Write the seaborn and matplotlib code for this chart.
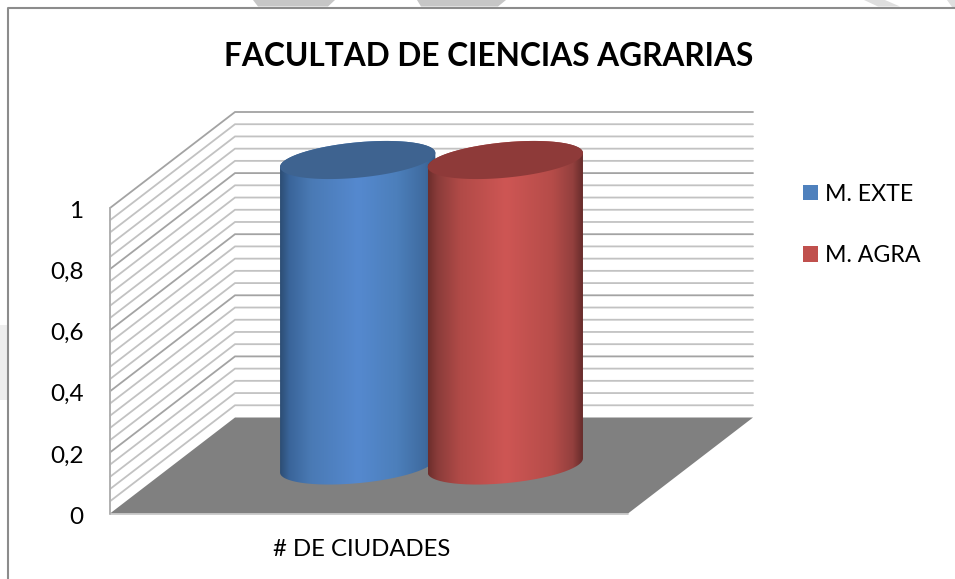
#!/usr/bin/env python3

import numpy as np
import pandas as pd
import matplotlib
matplotlib.use("Agg")
import matplotlib.pyplot as plt
from matplotlib.colors import LinearSegmentedColormap
from matplotlib.patches import Patch, PathPatch, Polygon, Rectangle
from matplotlib.path import Path
from matplotlib.transforms import ScaledTranslation
import seaborn as sns

categories = ["# DE CIUDADES"]
series = ["M. EXTE", "M. AGRA"]
m_exte = [1]
m_agra = [1]
y_ticks = [0, 0.2, 0.4, 0.6, 0.8, 1]
y_labels = ["0", "0,2", "0,4", "0,6", "0,8", "1"]
title = "FACULTAD DE CIENCIAS AGRARIAS"

sns.set_theme(style="white")
plt.rcParams["font.family"] = ["Lato", "DejaVu Sans"]

W, H = 955, 579
fig = plt.figure(figsize=(W / 100, H / 100), dpi=100, facecolor="white")
ax = fig.add_axes([110 / W, (H - 513.5) / H, 518 / W, 305.5 / H])

df = pd.DataFrame({
    "cat": categories * 2,
    "serie": series,
    "valor": m_exte + m_agra,
})
legend_cols = ["#4f81bd", "#c0504d"]
sns.barplot(data=df, x="cat", y="valor", hue="serie", palette=legend_cols,
            width=0.57, legend=False, ax=ax)
ax.set_xlim(-0.5, 0.5)
ax.set_ylim(0, 1)

# depth of the 3d box, in data units
DX = 125 / 518
DY = 96 / 305.5
x0, x1 = -0.5, 0.5

# floor
ax.add_patch(Polygon([(x0, 0), (x0 + DX, DY), (x1 + DX, DY), (x1, 0)], closed=True,
                     facecolor="#808080", edgecolor="none", clip_on=False, zorder=1))
ax.plot([x0, x1], [0, 0], color="#c4c4c4", lw=1.2, clip_on=False, zorder=1.5)

# grid on the walls, five steps between labels
for i, v in enumerate(np.linspace(0, 1, 26)[1:]):
    major = (i + 1) % 5 == 0
    ax.plot([x0, x0 + DX, x1 + DX], [v, v + DY, v + DY],
            color="#a3a3a3" if major else "#c2c2c2", lw=1.3,
            clip_on=False, zorder=1, solid_joinstyle="miter")
ax.plot([x0, x0], [0, 1], color="#b0b0b0", lw=1.4, clip_on=False, zorder=1.5)

# cylinders drawn over the bars seaborn placed
ramps = [
    [(0, "#2d4e75"), (0.06, "#3a659a"), (0.2, "#4a7ab5"), (0.5, "#5589cf"),
     (0.75, "#4c7fbb"), (0.93, "#3f6b9f"), (1, "#345a85")],
    [(0, "#6d2e2c"), (0.06, "#8a3c3a"), (0.2, "#b04a47"), (0.5, "#ce5654"),
     (0.8, "#b54c49"), (0.93, "#93403e"), (1, "#632a29")],
]
caps = ["#3e6390", "#8e3a39"]
bars = [p for p in ax.patches if isinstance(p, Rectangle) and p.get_height() > 0][:2]
t = np.linspace(0, 2 * np.pi, 200)
for n, bar in enumerate(bars):
    bar.set_visible(False)
    cx = bar.get_x() + bar.get_width() / 2 + DX / 2
    a = bar.get_width() * 0.526
    b = 0.058
    tilt = 0.153
    y_bot = bar.get_y() + DY / 2
    y_top = y_bot + bar.get_height()

    back = np.linspace(0, np.pi, 100)
    front = np.linspace(np.pi, 2 * np.pi, 100)
    xs = np.r_[cx + a * np.cos(back), cx + a * np.cos(front)]
    ys = np.r_[y_top + tilt * a * np.cos(back) + b * np.sin(back),
               y_bot + tilt * a * np.cos(front) + b * np.sin(front)]
    body = PathPatch(Path(np.c_[xs, ys]), transform=ax.transData, facecolor="none", edgecolor="none")
    ax.add_patch(body)
    body.set_clip_on(False)
    cmap = LinearSegmentedColormap.from_list("c%d" % n, ramps[n])
    im = ax.imshow(np.linspace(0, 1, 256)[None, :], cmap=cmap, aspect="auto",
                   extent=[cx - a, cx + a, 0, 1.4], zorder=3 + n, interpolation="bilinear")
    im.set_clip_path(body)
    im.set_clip_box(fig.bbox)
    ax.fill(cx + a * np.cos(t), y_top + tilt * a * np.cos(t) + b * np.sin(t),
            color=caps[n], lw=0, clip_on=False, zorder=3.5 + n)

ax.set_xlim(-0.5, 0.5)
ax.set_ylim(0, 1)
ax.set_aspect("auto")

ax.set_yticks(y_ticks, y_labels)
ax.set_xticks([])
ax.tick_params(axis="y", length=0, pad=19, labelsize=17.5, labelcolor="black")
# labels sit a little low in the original
for lab in ax.get_yticklabels():
    lab.set_transform(lab.get_transform() + ScaledTranslation(0, -0.015, fig.dpi_scale_trans))
ax.set_ylabel("")
ax.set_xlabel(categories[0], x=(362 - 110) / 518, fontsize=17.2, color="black", labelpad=18)
sns.despine(ax=ax, left=True, bottom=True)
ax.patch.set_alpha(0)

fig.text(489 / W, 1 - 56 / H, title, ha="center", va="center", fontsize=22.8,
         fontweight="bold", color="black")

handles = [Patch(facecolor=c, edgecolor="none") for c in legend_cols]
fig.legend(handles, series, loc="center left", bbox_to_anchor=(803 / W, 1 - 225 / H),
           frameon=False, fontsize=16.7, labelcolor="black", handlelength=0.65, handleheight=0.65,
           handletextpad=0.29, labelspacing=1.74, borderpad=0, borderaxespad=0)

# chart frame: top and left edges only
fig.add_artist(plt.Line2D([8 / W, 8 / W, 1], [0, 1 - 7.5 / H, 1 - 7.5 / H],
                          color="#8c8c8c", lw=1.5, transform=fig.transFigure))

# bits of the page watermark showing outside the frame
marks = [
    ([(253, 0), (335, 0), (328, 6.5), (258, 6.5)], "#c6c6c6"),
    ([(417, 0), (506, 0), (498, 6.5), (421, 6.5)], "#c6c6c6"),
    ([(864, 0), (885, 0), (900, 6.5), (878, 6.5)], "#dedede"),
    ([(947, 0), (955, 0), (955, 6.5), (952, 6.5)], "#dedede"),
    ([(0, 325), (7, 325), (7, 400), (0, 400)], "#eeeeee"),
]
for pts, col in marks:
    fig.add_artist(Polygon([(px / W, 1 - py / H) for px, py in pts], closed=True,
                           facecolor=col, edgecolor="none", transform=fig.transFigure))

fig.savefig("out.png", dpi=100)
plt.close()
